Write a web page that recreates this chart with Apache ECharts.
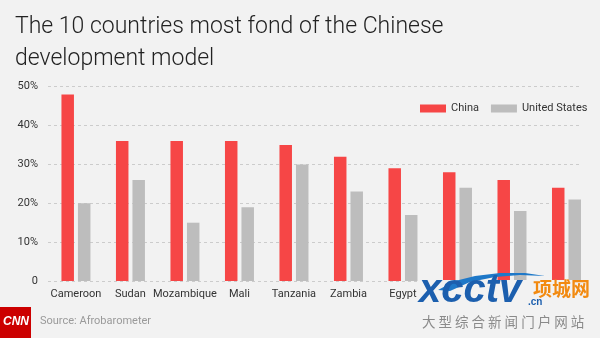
<!DOCTYPE html>
<html>
<head>
<meta charset="utf-8">
<script src="https://cdn.jsdelivr.net/npm/echarts@6/dist/echarts.min.js"></script>
<style>
html,body{margin:0;padding:0;background:#f2f2f2;}
#chart{width:600px;height:338px;}
</style>
</head>
<body>
<div id="chart"></div>
<script>
// Data (last three country names are hidden under the watermark in the reference)
const categories = ['Cameroon','Sudan','Mozambique','Mali','Tanzania','Zambia','Egypt','Niger','Namibia','Madagascar'];
const chinaValues = [48, 36, 36, 36, 35, 32, 29, 28, 26, 24];
const usValues = [20, 26, 15, 19, 30, 23, 17, 24, 18, 21];
const yTicks = [0, 10, 20, 30, 40, 50];
const seriesNames = ['China', 'United States'];
const titleLines = ['The 10 countries most fond of the Chinese', 'development model'];
const sourceText = 'Source: Afrobarometer';

const RED = '#f64646';
const GREY = '#bdbdbd';
const FONT = 'Roboto';

const chart = echarts.init(document.getElementById('chart'), null, {renderer: 'canvas'});
chart.setOption({
  backgroundColor: '#f2f2f2',
  animation: false,
  textStyle: {fontFamily: FONT},
  title: {
    text: titleLines.join('\n'),
    left: 10, top: 6,
    textStyle: {fontFamily: FONT, fontWeight: 300, fontSize: 23, lineHeight: 32, color: '#222'}
  },
  legend: {
    data: seriesNames,
    left: 420, top: 103, padding: 0,
    itemWidth: 26, itemHeight: 8, itemGap: 12,
    icon: 'rect',
    textStyle: {fontFamily: FONT, fontSize: 11, color: '#333'}
  },
  grid: [
    {left: 48.7, right: 5.7, top: 86.7, bottom: 57, containLabel: false},
    {left: 48, right: 21, top: 86.7, bottom: 57, containLabel: false}
  ],
  xAxis: [
    {
      type: 'category', gridIndex: 0, data: categories,
      axisLine: {show: false}, axisTick: {show: false},
      axisLabel: {fontFamily: FONT, fontSize: 11, color: '#333', margin: 8, interval: 0}
    },
    {type: 'value', gridIndex: 1, show: false, min: 0, max: 1}
  ],
  yAxis: [
    {type: 'value', gridIndex: 0, min: yTicks[0], max: yTicks[yTicks.length-1], interval: 10, show: false},
    {
      type: 'value', gridIndex: 1, min: yTicks[0], max: yTicks[yTicks.length-1], interval: 10,
      axisLine: {show: false}, axisTick: {show: false},
      axisLabel: {fontFamily: FONT, fontSize: 11, color: '#333', margin: 10,
        formatter: v => v === 0 ? '0' : v + '%'},
      splitLine: {show: true, lineStyle: {color: '#cccccc', type: [3, 3], width: 1}}
    }
  ],
  series: [
    {name: seriesNames[0], type: 'bar', xAxisIndex: 0, yAxisIndex: 0, data: chinaValues,
      barWidth: 12.5, barGap: '32%', itemStyle: {color: RED}},
    {name: seriesNames[1], type: 'bar', xAxisIndex: 0, yAxisIndex: 0, data: usValues,
      barWidth: 12.5, barGap: '32%', itemStyle: {color: GREY}}
  ],
  graphic: [
    // CNN logo
    {type: 'rect', left: 0, top: 307, shape: {width: 31, height: 31}, style: {fill: '#cc0000'}},
    {type: 'text', left: 3, top: 316, style: {text: 'CNN', fill: '#fff', font: 'bold italic 12px "Liberation Sans"'}},
    {type: 'text', left: 40, top: 316, style: {text: sourceText, fill: '#9a9a9a', font: '11px Roboto'}},
    // watermark overlay
    {type: 'rect', left: 418, top: 280, shape: {width: 182, height: 58}, style: {fill: '#f2f2f2'}, z: 100},
    {type: 'polygon', z: 101, shape: {points: [[438,290],[455,281],[475,276],[500,273],[525,273],[545,276],[520,275],[495,277],[470,282],[450,291]]}, style: {fill: '#1e78c8'}},
    {type: 'text', left: 419, top: 271, z: 102, style: {text: 'xcctv', fill: '#1c5fae', font: 'bold italic 40px "Liberation Sans"'}},
    {type: 'text', left: 528, top: 297, z: 102, style: {text: '.cn', fill: '#1c5fae', font: 'bold 10px "Liberation Sans"'}},
    {type: 'text', left: 533, top: 279, z: 102, style: {text: '项城网', fill: '#f28a10', font: 'bold 19px "Noto Sans CJK SC"'}},
    {type: 'text', left: 422, top: 315, z: 102, style: {text: '大 型 综 合 新 闻 门 户 网 站', fill: '#8a8a8a', font: '13.5px "Noto Sans CJK SC"'}}
  ]
});
</script>
</body>
</html>
